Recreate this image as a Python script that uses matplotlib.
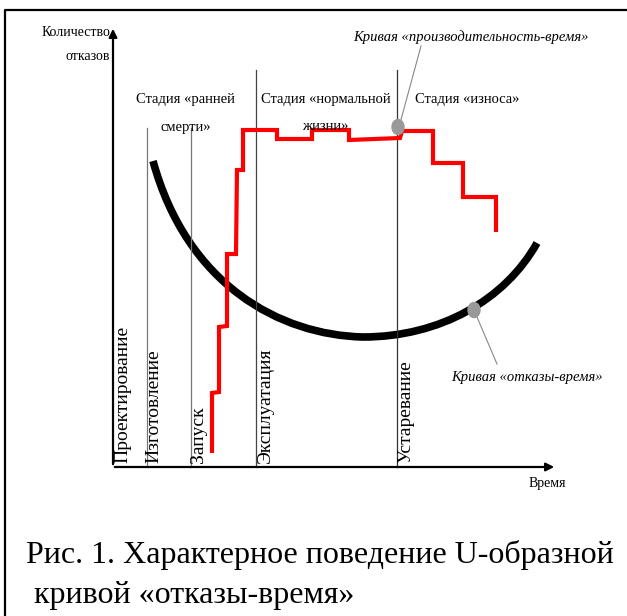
import numpy as np
import matplotlib.pyplot as plt
from matplotlib.patches import Ellipse, PathPatch
from matplotlib.path import Path

plt.rcParams['font.family'] = ['Liberation Serif', 'DejaVu Serif']

# схема в "пиксельных" единицах: x вправо, y вниз
axis_origin = (113, 467)
axis_top = 26
axis_right = 557

# вертикальные линии этапов: x, верх линии
stage_x = [147, 191, 256, 397]
stage_top = [128, 128, 70, 70]
stage_color = ['#777777', '#777777', '#444444', '#333333']

# подписи этапов (повернутые)
phase_labels = ['Проектирование', 'Изготовление', 'Запуск', 'Эксплуатация', 'Устаревание']
phase_x = [123, 154, 199, 265, 406]

# кривая "производительность-время" (ступенчатая)
perf_x = [212, 212, 219, 219, 227, 227, 236, 237, 243, 243, 277, 277, 312, 312, 349, 349, 400, 402, 433, 433, 463, 463, 496, 496]
perf_y = [453, 393, 392, 327, 326, 254, 254, 170, 170, 130, 130, 139, 139, 130, 130, 140, 138, 131, 131, 163, 163, 197, 197, 232]

# кривая "отказы-время": опорные точки двух кубических кривых Безье
fail_x = [153, 187, 280, 363, 440, 505, 537]
fail_y = [161, 285, 335, 337, 337, 300, 243]

fig = plt.figure(figsize=(6.27, 6.16), dpi=100)
ax = fig.add_axes([0, 0, 1, 1])
ax.set_xlim(0, 627)
ax.set_ylim(616, 0)
ax.axis('off')

# рамка
ax.plot([5, 5, 640], [640, 10, 10], color='black', lw=1.6)

# оси
ax.annotate('', xy=(axis_origin[0], axis_top), xytext=axis_origin,
            arrowprops=dict(arrowstyle='-|>', color='black', lw=1.6, mutation_scale=12))
ax.annotate('', xy=(axis_right, axis_origin[1]), xytext=(axis_origin[0] - 1, axis_origin[1]),
            arrowprops=dict(arrowstyle='-|>', color='black', lw=1.6, mutation_scale=12))

for x, top, c in zip(stage_x, stage_top, stage_color):
    ax.plot([x, x], [axis_origin[1], top], color=c, lw=0.9)

for lab, x in zip(phase_labels, phase_x):
    ax.text(x, 463, lab, rotation=90, ha='center', va='bottom', fontsize=14)

codes = [Path.MOVETO] + [Path.CURVE4] * 6
fail_path = Path(np.column_stack([fail_x, fail_y]), codes)
ax.add_patch(PathPatch(fail_path, facecolor='none', edgecolor='black', lw=5.5, capstyle='butt'))
ax.plot(perf_x, perf_y, color='#ff0000', lw=3, solid_capstyle='butt', solid_joinstyle='miter')

# маркеры и выноски
ax.plot([399, 421], [127, 46], color='#888888', lw=0.8)
ax.plot([474, 497], [310, 364], color='#888888', lw=0.8)
ax.add_patch(Ellipse((398, 127), 12, 15, color='#999999', zorder=5))
ax.add_patch(Ellipse((474, 310), 12, 15, color='#999999', zorder=5))

ax.text(471, 37, 'Кривая «производительность-время»', ha='center', va='center', fontsize=10.5, style='italic')
ax.text(527, 377, 'Кривая «отказы-время»', ha='center', va='center', fontsize=10.5, style='italic')

ax.text(110, 33, 'Количество', ha='right', va='center', fontsize=10)
ax.text(110, 56, 'отказов', ha='right', va='center', fontsize=10)
ax.text(547, 484, 'Время', ha='center', va='center', fontsize=10)

ax.text(185, 100, 'Стадия «ранней', ha='center', va='center', fontsize=10.5)
ax.text(186, 127, 'смерти»', ha='center', va='center', fontsize=10.5)
ax.text(326, 100, 'Стадия «нормальной', ha='center', va='center', fontsize=10.5)
ax.text(325, 127, 'жизни»', ha='center', va='center', fontsize=10.5)
ax.text(467, 100, 'Стадия «износа»', ha='center', va='center', fontsize=10.5)

ax.text(26, 555, 'Рис. 1. Характерное поведение U-образной', ha='left', va='center', fontsize=23)
ax.text(34, 595, 'кривой «отказы-время»', ha='left', va='center', fontsize=23)

fig.savefig('out.png', dpi=100)
